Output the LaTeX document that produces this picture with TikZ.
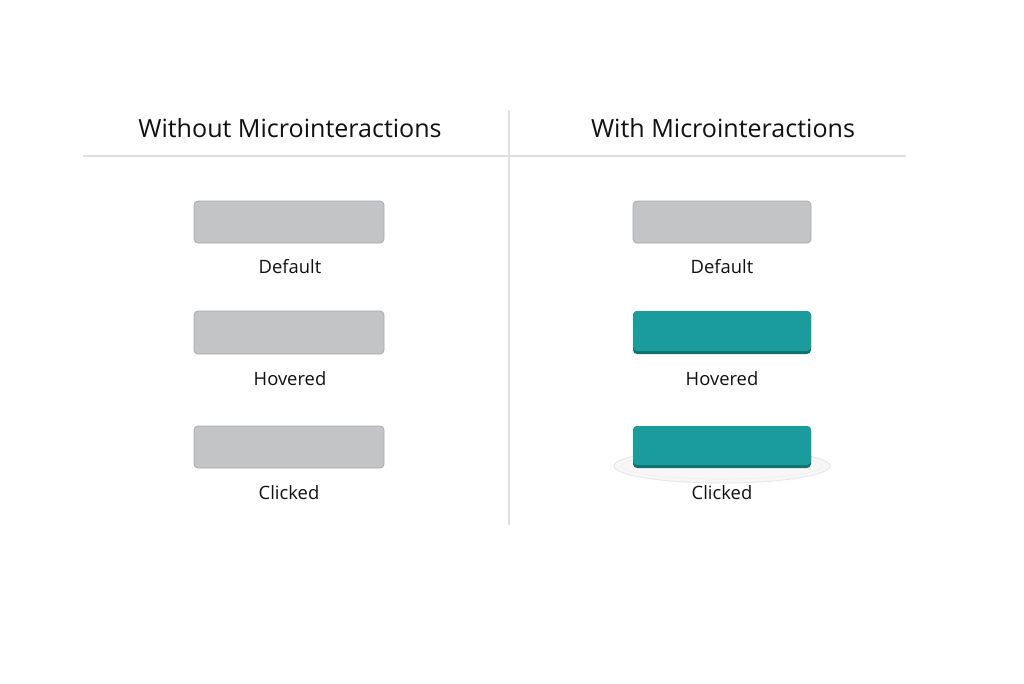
\documentclass[tikz,border=0pt]{standalone}
\usepackage{fontspec}
\setmainfont{Open Sans}
\definecolor{btngray}{HTML}{C3C4C6}
\definecolor{btnedge}{HTML}{A9AAAD}
\definecolor{teal}{HTML}{1A9C9C}
\definecolor{tealdark}{HTML}{12706F}
\definecolor{rule}{HTML}{E0E0E0}
\definecolor{txt}{HTML}{111111}
\begin{document}
\begin{tikzpicture}[x=0.75pt,y=-0.75pt,
  title/.style={font=\fontsize{18.8}{20}\selectfont, text=txt, inner sep=0pt},
  lbl/.style={font=\fontsize{13.8}{15}\selectfont, text=txt, inner sep=0pt},
  graybtn/.style={draw=btnedge, line width=0.6pt, fill=btngray, rounded corners=3pt},
]
\useasboundingbox (0,0) rectangle (1024,683);
\fill[white] (0,0) rectangle (1024,683);
% rules
\draw[rule, line width=1.5pt] (83,156) coordinate (hl) -- (906,156) coordinate (hr);
\draw[rule, line width=1pt] (509,110) coordinate (vt) -- (509,525) coordinate (vb);
% titles
\node[title] (t1) at (290,128) {Without Microinteractions};
\node[title] (t2) at (723,128) {With Microinteractions};
% left buttons
\draw[graybtn] (194,201) rectangle (384,243);
\node[lbl] (l1) at (290,267) {Default};
\draw[graybtn] (194,311) rectangle (384,354);
\node[lbl] (l2) at (290,379) {Hovered};
\draw[graybtn] (194,426) rectangle (384,468);
\node[lbl] (l3) at (289,493) {Clicked};
% right buttons
\draw[graybtn] (633,201) rectangle (811,243);
\node[lbl] (r1) at (722,267) {Default};
\fill[tealdark, rounded corners=3pt] (633,311) rectangle (811,354);
\fill[teal, rounded corners=3pt] (633,311) rectangle (811,351);
\node[lbl] (r2) at (722,379) {Hovered};
% ripple
\fill[black!3] (722,466) ellipse (108 and 17);
\draw[black!10, line width=0.6pt] (722,466) ellipse (108 and 17);
\draw[black!6, line width=0.5pt] (722,466) ellipse (100 and 13);
\fill[tealdark, rounded corners=3pt] (633,426) rectangle (811,468);
\fill[teal, rounded corners=3pt] (633,426) rectangle (811,465);
\node[lbl] (r3) at (722,493) {Clicked};
\end{tikzpicture}
\end{document}
